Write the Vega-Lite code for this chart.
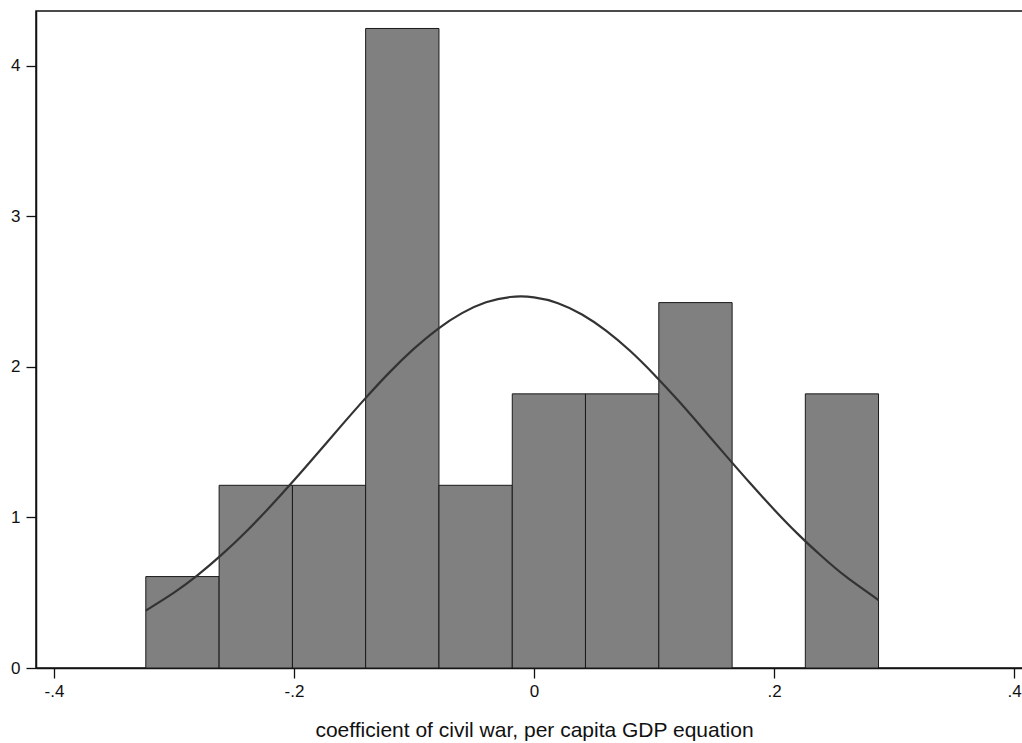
{
  "$schema": "https://vega.github.io/schema/vega-lite/v6.json",
  "width": 996,
  "height": 657,
  "autosize": {"type": "none"},
  "padding": {"left": 36, "top": 11, "right": 0, "bottom": 75},
  "background": "white",
  "config": {
    "font": "Liberation Sans",
    "view": {"stroke": "#111111", "strokeWidth": 1.5},
    "axis": {
      "grid": false,
      "domainColor": "#111111",
      "domainWidth": 1.5,
      "tickColor": "#111111",
      "tickWidth": 1.3,
      "tickSize": 10,
      "labelColor": "#111111",
      "labelFont": "Liberation Sans",
      "titleFont": "Liberation Sans",
      "titleFontWeight": "normal",
      "titleColor": "#111111"
    }
  },
  "datasets": {
    "bins": [
      {"bin_start": -0.3235, "bin_end": -0.2624, "density": 0.607},
      {"bin_start": -0.2624, "bin_end": -0.2013, "density": 1.213},
      {"bin_start": -0.2013, "bin_end": -0.1403, "density": 1.213},
      {"bin_start": -0.1403, "bin_end": -0.0792, "density": 4.246},
      {"bin_start": -0.0792, "bin_end": -0.0181, "density": 1.213},
      {"bin_start": -0.0181, "bin_end": 0.0429, "density": 1.82},
      {"bin_start": 0.0429, "bin_end": 0.104, "density": 1.82},
      {"bin_start": 0.104, "bin_end": 0.1651, "density": 2.426},
      {"bin_start": 0.2261, "bin_end": 0.2871, "density": 1.82}
    ],
    "curve": [
      {"x": -0.3235, "y": 0.381},
      {"x": -0.30, "y": 0.500},
      {"x": -0.28, "y": 0.618},
      {"x": -0.26, "y": 0.754},
      {"x": -0.24, "y": 0.905},
      {"x": -0.22, "y": 1.070},
      {"x": -0.20, "y": 1.246},
      {"x": -0.18, "y": 1.429},
      {"x": -0.16, "y": 1.614},
      {"x": -0.14, "y": 1.795},
      {"x": -0.12, "y": 1.966},
      {"x": -0.10, "y": 2.120},
      {"x": -0.08, "y": 2.252},
      {"x": -0.06, "y": 2.356},
      {"x": -0.04, "y": 2.428},
      {"x": -0.02, "y": 2.463},
      {"x": 0.00, "y": 2.461},
      {"x": 0.02, "y": 2.422},
      {"x": 0.04, "y": 2.347},
      {"x": 0.06, "y": 2.240},
      {"x": 0.08, "y": 2.106},
      {"x": 0.10, "y": 1.949},
      {"x": 0.12, "y": 1.777},
      {"x": 0.14, "y": 1.595},
      {"x": 0.16, "y": 1.410},
      {"x": 0.18, "y": 1.228},
      {"x": 0.20, "y": 1.053},
      {"x": 0.22, "y": 0.889},
      {"x": 0.24, "y": 0.740},
      {"x": 0.26, "y": 0.606},
      {"x": 0.2871, "y": 0.451}
    ]
  },
  "layer": [
    {
      "data": {"name": "bins"},
      "mark": {"type": "rect", "fill": "#808080", "stroke": "#1a1a1a", "strokeWidth": 1},
      "encoding": {
        "x": {
          "field": "bin_start",
          "type": "quantitative",
          "scale": {"domain": [-0.415, 0.415], "nice": false, "zero": false},
          "axis": {
            "values": [-0.4, -0.2, 0, 0.2, 0.4],
            "labelExpr": "round(datum.value*10) == -4 ? '-.4' : round(datum.value*10) == -2 ? '-.2' : round(datum.value*10) == 0 ? '0' : round(datum.value*10) == 2 ? '.2' : '.4'",
            "labelPadding": 5,
            "labelFontSize": 17,
            "title": "coefficient of civil war, per capita GDP equation",
            "titleFontSize": 21,
            "titlePadding": 20
          }
        },
        "x2": {"field": "bin_end"},
        "y": {
          "field": "density",
          "type": "quantitative",
          "scale": {"domain": [0, 4.362], "nice": false},
          "axis": {
            "values": [0, 1, 2, 3, 4],
            "format": "d",
            "labelPadding": 6,
            "labelFontSize": 17,
            "title": null
          }
        },
        "y2": {"datum": 0}
      }
    },
    {
      "data": {"name": "curve"},
      "mark": {"type": "line", "color": "#333333", "strokeWidth": 2.2, "interpolate": "natural"},
      "encoding": {
        "x": {"field": "x", "type": "quantitative"},
        "y": {"field": "y", "type": "quantitative"}
      }
    }
  ]
}
